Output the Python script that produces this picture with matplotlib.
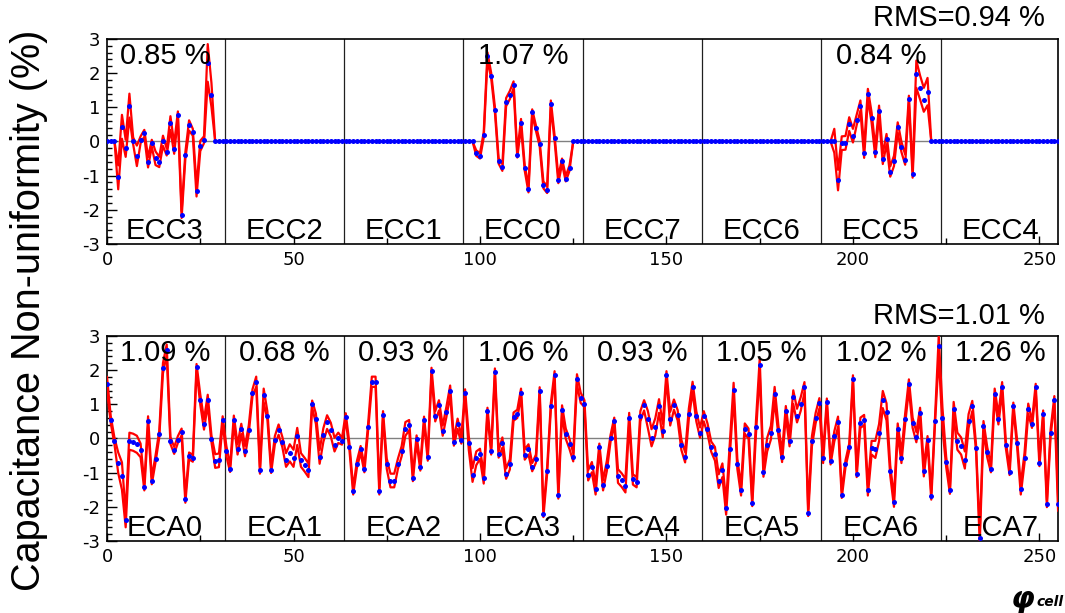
import numpy as np
import matplotlib
matplotlib.use('Agg')
import matplotlib.pyplot as plt
from matplotlib.ticker import MultipleLocator

plt.rcParams['axes.unicode_minus'] = False
plt.rcParams['mathtext.fontset'] = 'dejavusans'

# ---------------- data ----------------
cells = np.arange(256)

top_names = ["ECC3", "ECC2", "ECC1", "ECC0", "ECC7", "ECC6", "ECC5", "ECC4"]
top_pcts = ["0.85 %", "", "", "1.07 %", "", "", "0.84 %", ""]
top_rms = "RMS=0.94 %"

bot_names = ["ECA0", "ECA1", "ECA2", "ECA3", "ECA4", "ECA5", "ECA6", "ECA7"]
bot_pcts = ["1.09 %", "0.68 %", "0.93 %", "1.06 %", "0.93 %", "1.05 %", "1.02 %", "1.26 %"]
bot_rms = "RMS=1.01 %"

zeros32 = [0.0] * 32

ecc3 = [0, 0, 0, -1.05, 0.43, -0.2, 1.05, 0.02, -0.42, 0.05, 0.24, -0.61, -0.05, -0.49, -0.6, 0.02,
        -0.31, 0.54, -0.21, 0.78, -2.14, -0.41, 0.47, 0.27, -1.46, -0.13, 0.05, 2.3, 1.36, 0, 0, 0]
ecc3_sp = [0, 0, 0, 0.35, 0.35, 0.25, 0.35, 0.1, 0.3, 0.1, 0.1, 0.15, 0.1, 0.2, 0.15, 0.15,
           0.1, 0.2, 0.15, 0.1, 0.1, 0.1, 0.15, 0.1, 0.15, 0.15, 0.1, 0.55, 0.35, 0, 0, 0]
ecc0 = [0, 0, 0, -0.34, -0.42, 0.19, 2.49, 1.93, 0.93, -0.57, -0.76, 1.15, 1.36, 1.66, -0.39, 0.54,
        -0.78, -1.39, 0.86, 0.39, -0.06, -1.27, -1.41, 1.1, 0.1, -1.12, -0.58, -1.09, -0.78, 0, 0, 0]
ecc0_sp = [0, 0, 0, 0.08, 0.08, 0.08, 0.12, 0.08, 0.08, 0.08, 0.1, 0.12, 0.12, 0.1, 0.08, 0.12,
           0.08, 0.1, 0.08, 0.08, 0.08, 0.1, 0.1, 0.1, 0.08, 0.1, 0.08, 0.08, 0.08, 0, 0, 0]
ecc5 = [0, 0, 0, 0.02, -1.13, -0.05, -0.04, 0.51, 0.17, 0.63, 1.05, -0.33, 1.39, 0.7, -0.31, 0.9,
        -0.51, 0.07, -0.88, -0.57, 0.41, -0.16, -0.53, 1.24, -0.96, 1.97, 1.58, 1.22, 1.46, 0, 0, 0]
ecc5_sp = [0, 0, 0, 0.35, 0.3, 0.2, 0.2, 0.2, 0.2, 0.15, 0.15, 0.15, 0.15, 0.15, 0.15, 0.15,
           0.15, 0.15, 0.15, 0.15, 0.15, 0.15, 0.15, 0.1, 0.1, 0.4, 0.35, 0.35, 0.4, 0, 0, 0]

eca0 = [1.6, 0.55, -0.08, -0.71, -1.1, -2.4, -0.08, -0.11, -0.17, -0.35, -1.42, 0.5, -1.24, -0.6, 0.12, 2.06,
        2.6, -0.06, -0.35, -0.03, 0.19, -1.78, -0.51, -0.58, 2.08, 1.14, 0.41, 1.13, -0.01, -0.66, -0.64, 0.55]
eca1 = [-0.37, -0.88, 0.55, -0.32, 0.28, -0.37, 0.26, 1.34, 1.66, -0.93, 1.26, 0.67, -0.91, -0.05, 0.26, -0.1,
        -0.63, -0.42, -0.58, 0.06, -0.63, -0.77, -0.93, 1.01, 0.58, -0.54, 0.1, 0.48, 0.26, -0.18, 0.02, -0.08]
eca2 = [0.64, -0.25, -1.54, -0.76, -0.32, -0.89, 0.33, 1.66, 1.66, -1.54, 0.7, -0.74, -1.23, -1.23, -0.74, -0.37,
        0.28, 0.39, -1.15, -0.01, -0.84, 0.54, -0.55, 1.97, 0.65, 0.97, 0.23, 0.78, 1.4, -0.11, 0.43, -0.05]
eca3 = [1.34, -0.14, -1.07, -0.58, -0.45, -1.17, 0.8, -0.37, 1.95, -0.46, -0.12, -1.03, -0.76, 0.64, 0.72, 1.34,
        -0.47, -0.32, -0.84, -0.59, 1.4, -2.2, -0.94, 0.94, 1.87, -1.66, 0.82, 0.14, -0.16, -0.55, 1.73, 1.19]
eca4 = [1.02, -1.08, -0.84, -1.49, -0.25, -1.37, -0.81, 0.0, 0.51, -1.1, -1.22, -1.38, 0.6, -1.2, -1.28, 0.65,
        0.97, 0.56, 0.02, 0.34, 0.95, 0.23, 1.87, 0.58, 0.99, 0.68, -0.19, -0.55, 0.73, 1.51, 0.65, 0.17]
eca5 = [0.65, 0.29, -0.24, -0.45, -1.25, -0.93, -2.03, -0.3, 1.43, -0.74, -1.52, 0.29, 0.14, -1.88, 0.33, 2.14,
        -0.97, -0.18, 0.17, 1.31, 0.24, -0.54, 0.8, -0.08, 1.21, 0.67, 1.01, 1.5, -2.17, -0.08, 0.6, 1.03]
eca6 = [-0.57, 1.07, -0.66, 0.06, 0.49, -1.64, -0.74, -0.25, 1.75, -1.03, 0.46, 0.54, -1.52, -0.27, -0.32, 0.17,
        1.14, 0.78, -0.94, -1.85, 0.29, -0.57, 0.58, 1.58, 0.46, 0.04, 0.75, -0.96, -0.03, -1.69, 0.51, 2.7]
eca7 = [0.6, -0.69, -1.52, 0.87, -0.08, -0.22, -0.63, 0.51, 0.95, -0.27, -2.9, 0.36, -0.4, -0.89, 1.31, 0.56,
        1.5, -0.19, -0.97, 0.95, -0.13, -1.49, -0.57, 0.87, 0.41, 1.5, -0.71, 0.72, -1.91, 0.17, 1.14, -1.91]

eca0_sp = [0.2, 0.1, 0.1, 0.3, 0.4, 0.2, 0.25, 0.25, 0.25, 0.2, 0.1, 0.15, 0.1, 0.1, 0.1, 0.15,
           0.15, 0.1, 0.1, 0.1, 0.1, 0.1, 0.1, 0.1, 0.1, 0.15, 0.15, 0.15, 0.1, 0.2, 0.2, 0.1]
eca1_sp = [0.15, 0.1, 0.12, 0.15, 0.15, 0.15, 0.12, 0.1, 0.15, 0.1, 0.2, 0.12, 0.1, 0.12, 0.15, 0.15,
           0.2, 0.25, 0.25, 0.25, 0.2, 0.2, 0.2, 0.1, 0.15, 0.2, 0.2, 0.2, 0.2, 0.2, 0.15, 0.1]
eca2_sp = [0.1, 0.1, 0.1, 0.1, 0.1, 0.1, 0.1, 0.15, 0.15, 0.1, 0.1, 0.15, 0.2, 0.2, 0.15, 0.15,
           0.2, 0.15, 0.1, 0.1, 0.1, 0.1, 0.1, 0.1, 0.15, 0.15, 0.15, 0.15, 0.15, 0.1, 0.15, 0.1]
eca3_sp = [0.1, 0.2, 0.2, 0.2, 0.15, 0.15, 0.1, 0.1, 0.1, 0.1, 0.15, 0.15, 0.15, 0.12, 0.12, 0.12,
           0.15, 0.15, 0.12, 0.12, 0.1, 0.1, 0.1, 0.1, 0.1, 0.1, 0.15, 0.15, 0.15, 0.12, 0.15, 0.15]
eca4_sp = [0.1, 0.15, 0.15, 0.15, 0.1, 0.15, 0.15, 0.1, 0.1, 0.2, 0.2, 0.2, 0.15, 0.15, 0.15, 0.15,
           0.15, 0.25, 0.25, 0.25, 0.2, 0.2, 0.1, 0.2, 0.15, 0.15, 0.15, 0.15, 0.15, 0.15, 0.15, 0.15]
eca5_sp = [0.15, 0.15, 0.15, 0.2, 0.2, 0.2, 0.2, 0.2, 0.2, 0.15, 0.15, 0.15, 0.15, 0.1, 0.2, 0.2,
           0.15, 0.2, 0.2, 0.2, 0.15, 0.15, 0.15, 0.15, 0.2, 0.2, 0.2, 0.15, 0.1, 0.15, 0.15, 0.15]
eca6_sp = [0.15, 0.1, 0.1, 0.15, 0.15, 0.1, 0.1, 0.1, 0.1, 0.1, 0.15, 0.15, 0.15, 0.2, 0.25, 0.25,
           0.25, 0.25, 0.15, 0.15, 0.15, 0.15, 0.15, 0.15, 0.15, 0.15, 0.15, 0.15, 0.1, 0.1, 0.1, 0.3]
eca7_sp = [0.3, 0.15, 0.1, 0.2, 0.25, 0.25, 0.25, 0.2, 0.15, 0.1, 0.15, 0.15, 0.15, 0.1, 0.15, 0.15,
           0.15, 0.1, 0.1, 0.1, 0.1, 0.15, 0.15, 0.15, 0.1, 0.1, 0.1, 0.1, 0.1, 0.1, 0.1, 0.2]

top_vals = ecc3 + zeros32 + zeros32 + ecc0 + zeros32 + zeros32 + ecc5 + zeros32
top_spread = ecc3_sp + zeros32 + zeros32 + ecc0_sp + zeros32 + zeros32 + ecc5_sp + zeros32
bot_vals = eca0 + eca1 + eca2 + eca3 + eca4 + eca5 + eca6 + eca7
bot_spread = eca0_sp + eca1_sp + eca2_sp + eca3_sp + eca4_sp + eca5_sp + eca6_sp + eca7_sp

module_width = 32

# ---------------- figure ----------------
fig = plt.figure(figsize=(10.65, 6.13), dpi=100)
ax_top = fig.add_axes([0.1005, 0.602, 0.893, 0.3344])
ax_bot = fig.add_axes([0.1005, 0.1175, 0.893, 0.3344])

TXT = 'Liberation Sans'


def draw(ax, vals, spread, names, pcts):
    v = np.array(vals, dtype=float)
    s = np.array(spread, dtype=float)
    ax.axhline(0, color='#808080', lw=1.0, zorder=1)
    for k in range(1, len(names)):
        ax.axvline(k * module_width - 0.5, color='#202020', lw=0.9, zorder=1)
    ax.plot(cells, v + s, color='#ff0000', lw=1.6, zorder=3)
    ax.plot(cells, v - s, color='#ff0000', lw=1.6, zorder=3)
    ax.plot(cells, v, 'o', color='#0000ff', ms=3.6, mew=0, zorder=4)
    for k, (nm, pc) in enumerate(zip(names, pcts)):
        xc = k * module_width + 15.5
        ax.text(xc, -2.84, nm, ha='center', va='baseline', fontsize=21,
                family=TXT, zorder=5)
        if pc:
            ax.text(xc, 2.28, pc, ha='center', va='baseline', fontsize=21,
                    family=TXT, zorder=5)
    ax.set_xlim(0, 255)
    ax.set_ylim(-3, 3)
    ax.xaxis.set_major_locator(MultipleLocator(50))
    ax.xaxis.set_minor_locator(MultipleLocator(25))
    ax.yaxis.set_major_locator(MultipleLocator(1))
    ax.yaxis.set_minor_locator(MultipleLocator(0.2))
    ax.tick_params(axis='both', which='both', direction='in', top=False, right=False)
    ax.tick_params(axis='x', which='major', length=6, width=1)
    ax.tick_params(axis='x', which='minor', length=4, width=1)
    ax.tick_params(axis='y', which='major', length=7, width=1)
    ax.tick_params(axis='y', which='minor', length=3.5, width=1)
    ax.tick_params(axis='both', labelsize=13, pad=5)
    for sp in ax.spines.values():
        sp.set_linewidth(1.2)


draw(ax_top, top_vals, top_spread, top_names, top_pcts)
draw(ax_bot, bot_vals, bot_spread, bot_names, bot_pcts)

fig.text(0.981, 0.971, top_rms, ha='right', va='center', fontsize=21, family=TXT)
fig.text(0.981, 0.4845, bot_rms, ha='right', va='center', fontsize=21, family=TXT)
fig.text(0.027, 0.494, "Capacitance Non-uniformity (%)", rotation=90, ha='center',
         va='center', fontsize=28.5, family=TXT)
fig.text(0.960, 0.022, "\u03c6", ha='center', va='center', fontsize=22,
         family='DejaVu Sans', fontstyle='italic', fontweight='bold')
fig.text(0.973, 0.011, "cell", ha='left', va='baseline', fontsize=10,
         family='DejaVu Sans', fontstyle='italic', fontweight='bold')

fig.savefig('out.png', dpi=100)
